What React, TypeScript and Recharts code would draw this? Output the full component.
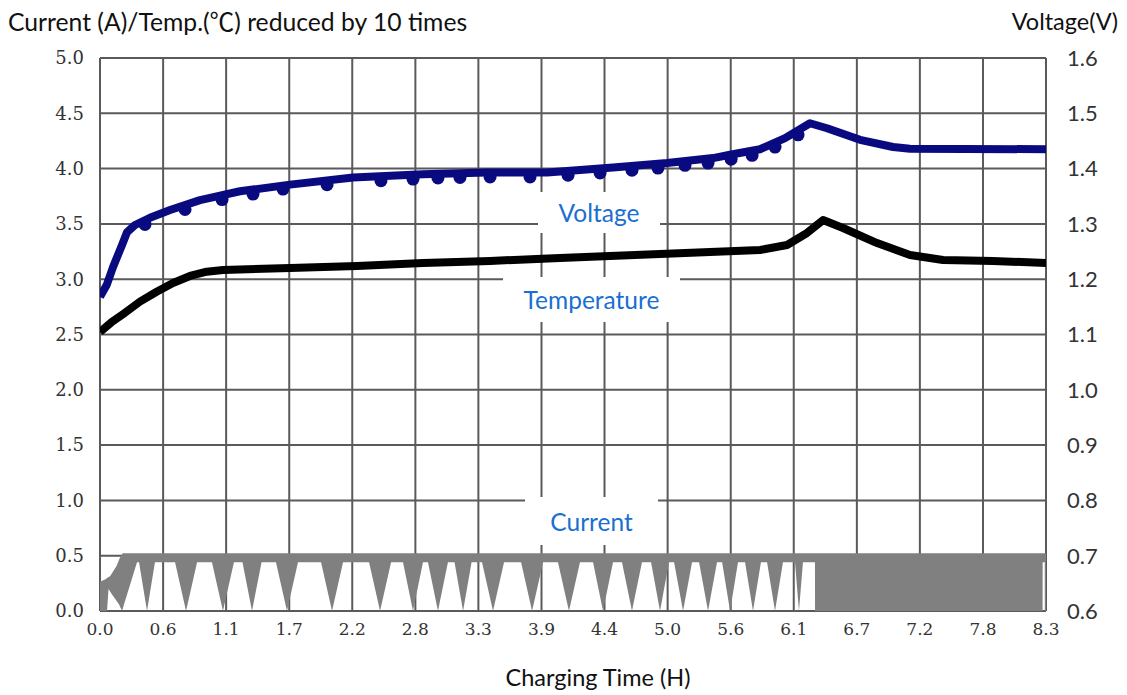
import React from 'react';
import { ComposedChart, Line, Area, XAxis, YAxis, CartesianGrid } from 'recharts';

// ---- axes ----
const xTicks = [0, 0.556, 1.111, 1.667, 2.222, 2.778, 3.333, 3.889, 4.444, 5.0, 5.556, 6.111, 6.667, 7.222, 7.778, 8.333];
const xTickLabels = ['0.0', '0.6', '1.1', '1.7', '2.2', '2.8', '3.3', '3.9', '4.4', '5.0', '5.6', '6.1', '6.7', '7.2', '7.8', '8.3'];
const leftTicks = [0, 0.5, 1, 1.5, 2, 2.5, 3, 3.5, 4, 4.5, 5];
const rightTicks = [0.6, 0.7, 0.8, 0.9, 1.0, 1.1, 1.2, 1.3, 1.4, 1.5, 1.6];

// ---- voltage (V, right axis) ----
const voltageTime = [0, 0.06, 0.115, 0.194, 0.238, 0.308, 0.44, 0.617, 0.881, 1.233, 1.674, 2.229, 2.845, 3.409, 3.938, 4.519, 4.995, 5.4, 5.55, 5.814, 6.034, 6.254, 6.404, 6.695, 6.986, 7.135, 8.333];
const voltageValue = [1.168, 1.19, 1.222, 1.262, 1.285, 1.298, 1.311, 1.325, 1.343, 1.359, 1.371, 1.384, 1.39, 1.393, 1.393, 1.402, 1.41, 1.419, 1.425, 1.435, 1.455, 1.482, 1.473, 1.452, 1.439, 1.436, 1.435];

// voltage dips during rest periods (dots)
const dipTime = [0.396, 0.749, 1.075, 1.348, 1.612, 2.0, 2.475, 2.757, 2.977, 3.171, 3.436, 3.788, 4.123, 4.405, 4.686, 4.915, 5.153, 5.356, 5.559, 5.744, 5.946, 6.149];
const dipVoltage = [1.299, 1.326, 1.344, 1.354, 1.363, 1.371, 1.378, 1.381, 1.383, 1.384, 1.385, 1.385, 1.388, 1.392, 1.397, 1.401, 1.406, 1.41, 1.417, 1.424, 1.439, 1.461];

// ---- temperature / 10 (left axis) ----
const tempTime = [0, 0.1, 0.205, 0.352, 0.499, 0.643, 0.793, 0.94, 1.083, 1.674, 2.264, 2.845, 3.436, 4.052, 4.933, 5.814, 6.052, 6.228, 6.369, 6.545, 6.845, 7.135, 7.426, 7.866, 8.333];
const tempValue = [2.523, 2.61, 2.686, 2.797, 2.887, 2.966, 3.029, 3.068, 3.083, 3.101, 3.119, 3.146, 3.165, 3.192, 3.228, 3.264, 3.309, 3.418, 3.535, 3.463, 3.327, 3.219, 3.174, 3.165, 3.146];

// ---- current (A, left axis) ----
const currentLevel = 0.5;
const currentPlateau = 0.44;
const currentStartTime = [0, 0.062, 0.075, 0.106, 0.167, 0.194, 0.212, 0.326];
const currentStartLow = [0, 0, 0.2, 0.15, 0.06, 0, 0.06, 0.44];
const currentStartHigh = [0.24, 0.27, 0.28, 0.3, 0.4, 0.47, 0.5, 0.5];
const currentDipTime = [0.414, 0.758, 1.083, 1.339, 1.647, 2.044, 2.467, 2.757, 2.977, 3.198, 3.462, 3.806, 4.131, 4.431, 4.686, 4.933, 5.136, 5.356, 5.55, 5.752, 5.946, 6.157];
const currentDipHalfWidth = [0.07, 0.097, 0.097, 0.084, 0.097, 0.097, 0.097, 0.088, 0.088, 0.075, 0.097, 0.097, 0.097, 0.088, 0.088, 0.079, 0.079, 0.079, 0.07, 0.07, 0.07, 0.035];
const currentSolidStart = 6.298;
const currentSolidEnd = 8.303;
const currentGapEnd = 8.322;
const currentEnd = 8.333;

// ---- build tables ----
const voltageData = voltageTime.map((t, i) => ({ t, v: voltageValue[i] }));
const dipData = dipTime.map((t, i) => ({ t, v: dipVoltage[i] }));
const tempData = tempTime.map((t, i) => ({ t, v: tempValue[i] }));

const currentData: { t: number; lo: number; hi: number }[] = [];
currentStartTime.forEach((t, i) => currentData.push({ t, lo: currentStartLow[i], hi: currentStartHigh[i] }));
currentDipTime.forEach((t, i) => {
  const w = currentDipHalfWidth[i];
  currentData.push({ t: t - w, lo: currentPlateau, hi: currentLevel });
  currentData.push({ t, lo: 0, hi: currentLevel });
  currentData.push({ t: t + w, lo: currentPlateau, hi: currentLevel });
});
currentData.push({ t: currentSolidStart, lo: currentPlateau, hi: currentLevel });
currentData.push({ t: currentSolidStart + 0.0005, lo: 0, hi: currentLevel });
currentData.push({ t: currentSolidEnd, lo: 0, hi: currentLevel });
currentData.push({ t: currentSolidEnd + 0.0005, lo: currentPlateau, hi: currentLevel });
currentData.push({ t: currentGapEnd, lo: currentPlateau, hi: currentLevel });
currentData.push({ t: currentGapEnd + 0.0005, lo: 0, hi: currentLevel });
currentData.push({ t: currentEnd, lo: 0, hi: currentLevel });

const NAVY = '#0a0a80';
const BLACK = '#000000';
const GRAY = '#808080';
const GRID = '#5a5a5a';
const BLUE = '#1a6fd0';
const SANS = "Lato, 'Noto Sans CJK SC', sans-serif";
const SERIF = "'DejaVu Serif', serif";

const labelBox = (text: string, left: number, top: number, width: number, height: number) => (
  <div
    style={{
      position: 'absolute', left, top, width, height, background: '#fff',
      display: 'flex', alignItems: 'center', justifyContent: 'center',
      color: BLUE, fontFamily: SANS, fontSize: 24.5,
    }}
  >
    {text}
  </div>
);

export default function App() {
  return (
    <div style={{ position: 'absolute', left: 0, top: 0, width: 1127, height: 695, background: '#fff', overflow: 'hidden' }}>
      <ComposedChart width={1127} height={695} margin={{ top: 58, right: 21, bottom: 44, left: 40 }}>
        <CartesianGrid yAxisId="left" stroke={GRID} strokeWidth={2} />
        <XAxis
          dataKey="t" type="number" domain={[0, 8.333]} ticks={xTicks} allowDataOverflow
          tickFormatter={(v: number) => xTickLabels[xTicks.indexOf(v)] ?? v.toFixed(1)}
          tickLine={false} axisLine={false} tickSize={0} tickMargin={12} height={40}
          tick={{ fill: '#333', fontFamily: SERIF, fontSize: 17 }} interval={0}
        />
        <YAxis
          yAxisId="left" domain={[0, 5]} ticks={leftTicks} allowDataOverflow
          tickFormatter={(v: number) => v.toFixed(1)} tickLine={false} axisLine={false}
          tickSize={0} tickMargin={16} width={60} interval={0}
          tick={{ fill: '#333', fontFamily: SERIF, fontSize: 18 }}
        />
        <YAxis
          yAxisId="right" orientation="right" domain={[0.6, 1.6]} ticks={rightTicks} allowDataOverflow
          tickFormatter={(v: number) => v.toFixed(1)} tickLine={false} axisLine={false}
          tickSize={0} tickMargin={21} width={60} interval={0}
          tick={{ fill: '#333', fontFamily: SANS, fontSize: 22 }}
        />
        <Area
          yAxisId="left" data={currentData} dataKey={(d: any) => [d.lo, d.hi]} type="linear"
          fill={GRAY} fillOpacity={1} stroke="none" isAnimationActive={false} activeDot={false}
        />
        <Line
          yAxisId="left" data={currentData} dataKey="hi" type="linear" stroke={GRAY}
          strokeWidth={5} dot={false} isAnimationActive={false} activeDot={false}
        />
        <Line
          yAxisId="left" data={tempData} dataKey="v" type="linear" stroke={BLACK}
          strokeWidth={8} strokeLinejoin="round" dot={false} isAnimationActive={false} activeDot={false}
        />
        <Line
          yAxisId="right" data={dipData} dataKey="v" type="linear" stroke="none"
          dot={{ r: 6.5, fill: NAVY, stroke: 'none', strokeWidth: 0 }} isAnimationActive={false} activeDot={false}
        />
        <Line
          yAxisId="right" data={voltageData} dataKey="v" type="linear" stroke={NAVY}
          strokeWidth={8} strokeLinejoin="round" dot={false} isAnimationActive={false} activeDot={false}
        />
      </ComposedChart>

      {labelBox('Voltage', 538, 192, 122, 41)}
      {labelBox('Temperature', 503, 277, 177, 45)}
      {labelBox('Current', 525, 497, 133, 48)}

      <div style={{ position: 'absolute', left: 8, top: 2, fontFamily: SANS, fontSize: 24.7, color: '#111', whiteSpace: 'nowrap' }}>
        Current (A)/Temp.(℃) reduced by 10 times
      </div>
      <div style={{ position: 'absolute', right: 9, top: 7, fontFamily: SANS, fontSize: 23.5, color: '#111', whiteSpace: 'nowrap' }}>
        Voltage(V)
      </div>
      <div style={{ position: 'absolute', left: 0, width: 1196, top: 663, textAlign: 'center', fontFamily: SANS, fontSize: 23.5, color: '#111', whiteSpace: 'nowrap' }}>
        Charging Time (H)
      </div>
    </div>
  );
}
